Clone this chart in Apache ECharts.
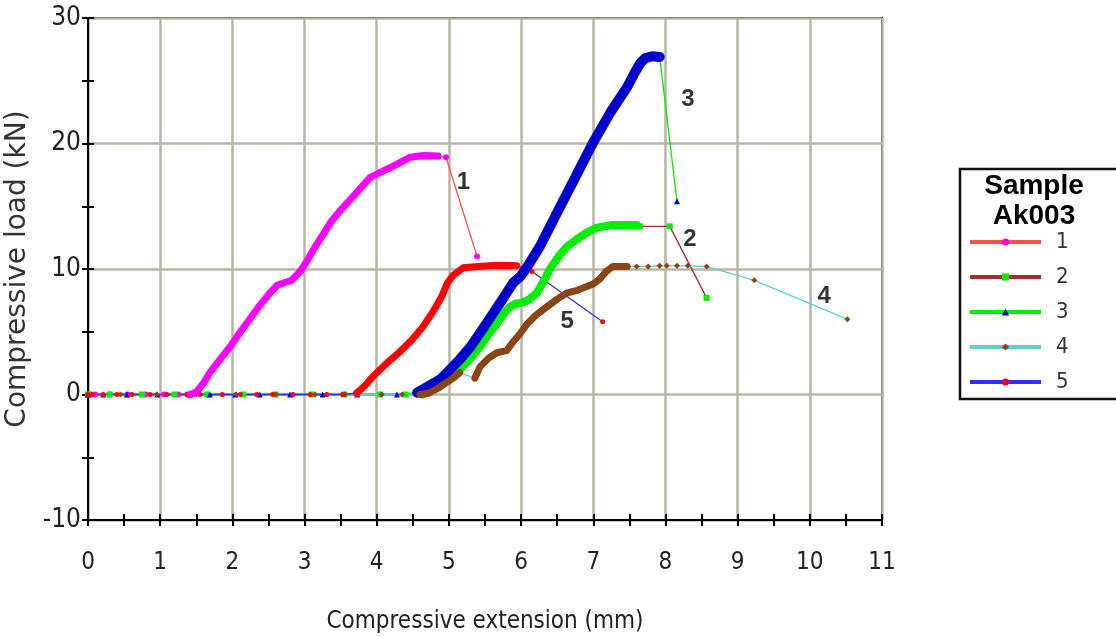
<!DOCTYPE html>
<html>
<head>
<meta charset="utf-8">
<script src="https://cdn.jsdelivr.net/npm/echarts@6/dist/echarts.min.js"></script>
<style>
  html, body { margin: 0; padding: 0; background: #fff; }
  #main { width: 1116px; height: 637px; }
</style>
</head>
<body>
<div id="main"></div>
<script>
// 试样数据 (x: mm, y: kN)
const s1Base = [[0,0],[0.05,0],[0.1,0],[0.3,0],[0.55,0],[0.8,0],[1.05,0],[1.25,0],[1.38,0]];
const s1Curve = [[1.42,0],[1.5,0.2],[1.6,0.9],[1.69,1.75],[1.83,2.8],[1.97,3.8],[2.1,4.9],[2.24,6.0],[2.38,7.1],[2.52,8.1],[2.62,8.7],[2.72,8.9],[2.82,9.1],[2.94,9.8],[3.03,10.6],[3.12,11.5],[3.24,12.6],[3.36,13.7],[3.5,14.7],[3.63,15.5],[3.77,16.4],[3.91,17.3],[4.05,17.7],[4.23,18.2],[4.46,18.9],[4.65,19.05],[4.85,19.0]];
const s1Tail = [[4.96,18.9],[5.39,11.0]];

const s2Base = [[0,0],[0.3,0],[0.75,0],[1.2,0],[1.65,0],[2.15,0],[2.6,0],[3.1,0],[3.55,0],[4.05,0],[4.4,0]];
const s2Curve = [[4.64,0],[4.8,0.5],[4.95,1.1],[5.11,1.75],[5.27,2.7],[5.43,3.8],[5.55,4.8],[5.67,5.7],[5.77,6.5],[5.85,7.0],[5.93,7.25],[6.01,7.3],[6.12,7.6],[6.22,8.1],[6.31,9.0],[6.4,10.0],[6.52,11.0],[6.64,11.8],[6.78,12.4],[6.91,12.9],[7.05,13.3],[7.25,13.5],[7.41,13.5],[7.6,13.5]];
const s2Tail = [[7.65,13.4],[8.06,13.4],[8.57,7.7]];

const s3Base = [[0,0],[0.21,0],[0.54,0],[0.96,0],[1.41,0],[1.69,0],[2.04,0],[2.38,0],[2.8,0],[3.25,0],[3.73,0],[4.28,0]];
const s3Curve = [[4.56,0.15],[4.7,0.6],[4.88,1.2],[5.0,1.9],[5.15,2.8],[5.3,3.8],[5.43,4.9],[5.57,6.1],[5.71,7.3],[5.8,8.1],[5.89,8.9],[5.99,9.4],[6.1,10.3],[6.26,11.8],[6.5,14.5],[6.75,17.3],[7.0,20.1],[7.24,22.5],[7.47,24.5],[7.57,25.6],[7.65,26.4],[7.72,26.8],[7.82,26.95],[7.92,26.9]];
const s3Tail = [[8.16,15.4]];

const s4Base = [[0,0],[0.45,0],[0.95,0],[1.5,0],[2.05,0],[2.6,0],[3.15,0],[3.56,0],[3.73,0],[4.07,0],[4.35,0]];
const s4CurveA = [[4.6,0],[4.72,0.1],[4.85,0.5],[4.97,0.96],[5.07,1.35],[5.15,1.75]];
const s4CurveB = [[5.36,1.3],[5.43,2.2],[5.55,2.9],[5.67,3.35],[5.8,3.5],[5.89,4.2],[5.98,4.8],[6.08,5.6],[6.2,6.3],[6.36,7.0],[6.5,7.6],[6.64,8.1],[6.78,8.3],[6.91,8.6],[7.0,8.8],[7.09,9.2],[7.18,9.8],[7.27,10.2],[7.47,10.2]];
const s4Tail = [[7.6,10.2],[7.76,10.2],[7.92,10.25],[8.02,10.25],[8.16,10.25],[8.31,10.25],[8.57,10.2],[9.23,9.1],[10.52,6.0]];

const s5Base = [[0,0],[0.06,0],[0.21,0],[0.4,0],[0.61,0],[0.86,0],[1.09,0],[1.37,0],[1.55,0],[1.86,0],[2.11,0],[2.34,0],[2.56,0],[2.84,0],[3.08,0],[3.31,0],[3.53,0]];
const s5Curve = [[3.72,0.1],[3.82,0.6],[3.95,1.45],[4.15,2.55],[4.32,3.4],[4.48,4.3],[4.64,5.4],[4.78,6.6],[4.9,7.8],[4.98,8.9],[5.06,9.5],[5.2,10.1],[5.4,10.2],[5.67,10.3],[5.94,10.25]];
const s5Tail = [[6.15,9.8],[7.13,5.8]];

// 曲线编号标注
const labelNames = ['1', '2', '3', '4', '5'];
const labelX = [5.2, 8.34, 8.31, 10.2, 6.64];
const labelY = [16.9, 12.35, 23.5, 7.8, 5.8];

const sampleNames = ['1', '2', '3', '4', '5'];

const condFont = "'DejaVu Sans Condensed', 'Liberation Sans Narrow', 'DejaVu Sans', sans-serif";
const tickStyle = { color: '#000', width: 2 };
const axisLineStyle = { color: '#000', width: 2 };

function thin(name, data, symbol, size, lineColor, markColor) {
  return {
    name: name, type: 'line', data: data, symbol: symbol, symbolSize: size,
    showSymbol: true, showAllSymbol: true, silent: true, z: 2,
    lineStyle: { color: lineColor, width: 1.3 },
    itemStyle: { color: markColor }
  };
}
function thick(name, data, color, width) {
  return {
    name: name, type: 'line', data: data, symbol: 'none', silent: true, z: 3,
    lineStyle: { color: color, width: width, cap: 'round', join: 'round' }
  };
}

const option = {
  animation: false,
  grid: {
    left: 88, right: 234, top: 18, bottom: 117,
    outerBoundsMode: 'none', containLabel: false,
    show: true, borderColor: '#000', borderWidth: 2
  },
  xAxis: [
    {
      type: 'value', min: 0, max: 11, interval: 1, position: 'bottom',
      name: 'Compressive extension (mm)', nameLocation: 'middle', nameGap: 90,
      nameTextStyle: { fontFamily: condFont, fontSize: 24, color: '#222' },
      axisLine: { onZero: false, lineStyle: axisLineStyle },
      axisTick: { show: true, inside: false, length: 6, lineStyle: tickStyle },
      minorTick: { show: true, splitNumber: 2, length: 6, lineStyle: tickStyle },
      axisLabel: { fontFamily: condFont, fontSize: 24, color: '#222', margin: 31 },
      splitLine: { show: true, lineStyle: { color: '#b8b4a6', width: 2.5 } }
    },
    {
      // 第二根轴只画向内的刻度
      type: 'value', min: 0, max: 11, interval: 1, position: 'bottom',
      axisLine: { show: true, onZero: false, lineStyle: axisLineStyle },
      axisTick: { show: true, inside: true, length: 6, lineStyle: tickStyle },
      minorTick: { show: true, splitNumber: 2, length: 6, lineStyle: tickStyle },
      axisLabel: { show: false },
      splitLine: { show: false }
    }
  ],
  yAxis: [
    {
      type: 'value', min: -10, max: 30, interval: 10, position: 'left',
      name: 'Compressive load (kN)', nameLocation: 'middle', nameGap: 50, nameRotate: 90,
      nameTextStyle: { fontFamily: "'DejaVu Sans', sans-serif", fontSize: 28, color: '#333' },
      axisLine: { onZero: false, lineStyle: axisLineStyle },
      axisTick: { show: true, inside: false, length: 6, lineStyle: tickStyle },
      minorTick: { show: true, splitNumber: 2, length: 6, lineStyle: tickStyle },
      axisLabel: { fontFamily: condFont, fontSize: 26, color: '#222', margin: 7 },
      splitLine: { show: true, lineStyle: { color: '#b8b4a6', width: 2.5 } }
    },
    {
      type: 'value', min: -10, max: 30, interval: 10, position: 'left',
      axisLine: { show: true, onZero: false, lineStyle: axisLineStyle },
      axisTick: { show: true, inside: true, length: 6, lineStyle: tickStyle },
      minorTick: { show: true, splitNumber: 2, length: 6, lineStyle: tickStyle },
      axisLabel: { show: false },
      splitLine: { show: false }
    }
  ],
  legend: {
    data: sampleNames,
    orient: 'vertical',
    left: 963, top: 226,
    itemWidth: 71, itemHeight: 9, itemGap: 13,
    lineStyle: { width: 4 },
    textStyle: { fontFamily: condFont, fontSize: 22, color: '#333', padding: [0, 0, 0, 10] },
    selectedMode: false
  },
  graphic: [
    {
      type: 'rect', silent: true,
      shape: { x: 960, y: 169, width: 200, height: 230 },
      style: { fill: 'rgba(0,0,0,0)', stroke: '#111', lineWidth: 2.5 }
    },
    {
      type: 'text', silent: true, x: 1034, y: 171,
      style: {
        text: 'Sample\nAk003', align: 'center', verticalAlign: 'top',
        fontFamily: "'Liberation Sans', Arial, sans-serif", fontWeight: 'bold',
        fontSize: 28, lineHeight: 30, fill: '#000'
      }
    }
  ],
  series: [
    thin('1', s1Base.concat(s1Curve, s1Tail), 'circle', 6, '#ff5050', '#ff00ff'),
    thin('2', s2Base.concat(s2Curve, s2Tail), 'rect', 6, '#9b3030', '#00ee00'),
    thin('3', s3Base.concat(s3Curve, s3Tail), 'triangle', 6, '#00ee00', '#0000cc'),
    thin('4', s4Base.concat(s4CurveA, s4CurveB, s4Tail), 'diamond', 6, '#5fd0d0', '#8b4513'),
    thin('5', s5Base.concat(s5Curve, s5Tail), 'circle', 5, '#3030ff', '#ff0000'),
    thick('c2', s2Curve, '#00ee00', 8),
    thick('c3', s3Curve, '#0000cc', 10),
    thick('c4a', s4CurveA, '#8b4513', 7),
    thick('c4b', s4CurveB, '#8b4513', 7),
    thick('c1', s1Curve, '#ff00ff', 7),
    thick('c5', s5Curve, '#ff0000', 7),
    {
      name: 'labels', type: 'scatter', symbolSize: 0, silent: true, z: 5,
      data: labelNames.map((n, i) => ({ name: n, value: [labelX[i], labelY[i]] })),
      label: {
        show: true, position: 'inside', formatter: '{b}',
        fontFamily: "'Liberation Sans', Arial, sans-serif", fontWeight: 'bold',
        fontSize: 24, color: '#000'
      }
    }
  ]
};

const chartDom = document.getElementById('main');
const myChart = echarts.init(chartDom);
myChart.setOption(option);
</script>
</body>
</html>
